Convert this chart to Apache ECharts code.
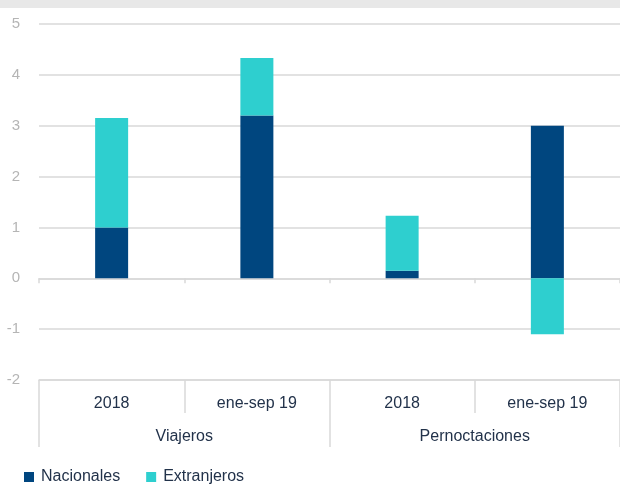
<!DOCTYPE html>
<html>
<head>
<meta charset="utf-8">
<script src="https://cdn.jsdelivr.net/npm/echarts@6/dist/echarts.min.js"></script>
<style>html,body{margin:0;padding:0;background:#fff}#c{width:620px;height:485px}</style>
</head>
<body>
<div id="c"></div>
<script>
const categories = ['2018', 'ene-sep 19', '2018', 'ene-sep 19'];
const groups = ['Viajeros', 'Pernoctaciones'];
const nacionales = [1.0, 3.2, 0.15, 3.0];
const extranjeros = [2.15, 1.13, 1.08, -1.1];
const yTicks = { min: -2, max: 5, interval: 1 };

const chart = echarts.init(document.getElementById('c'));
const font = 'Liberation Sans, Arial, sans-serif';
const txt = '#22324a';
const gridCol = '#d9d9d9';
chart.setOption({
  animation: false,
  textStyle: { fontFamily: font },
  graphic: [{ type: 'rect', shape: { x: 0, y: 0, width: 620, height: 8 }, style: { fill: '#e8e8e8' } }],
  grid: { left: 39, right: -5, top: 24, bottom: 105, containLabel: false },
  legend: {
    left: 24, top: 469, padding: 0, itemWidth: 10, itemHeight: 10, itemGap: 26, icon: 'rect',
    textStyle: { fontSize: 16, color: txt, fontFamily: font, padding: [0, 0, 0, 2] },
    data: ['Nacionales', 'Extranjeros']
  },
  xAxis: [
    { type: 'category', data: categories, position: 'bottom',
      axisLine: { onZero: true, lineStyle: { color: gridCol, width: 1.5 } },
      axisTick: { show: true, length: 5, interval: 0, lineStyle: { color: gridCol, width: 1.5 } },
      axisLabel: { show: false } },
    { type: 'category', data: categories, position: 'bottom',
      axisLine: { onZero: false, lineStyle: { color: gridCol, width: 1.5 } },
      axisTick: { show: true, length: 33, interval: 0, lineStyle: { color: gridCol, width: 1.5 } },
      axisLabel: { margin: 16, fontSize: 16, color: txt, fontFamily: font, interval: 0 } },
    { type: 'category', data: groups, position: 'bottom',
      axisLine: { show: false, onZero: false },
      axisTick: { show: true, length: 67, interval: 0, lineStyle: { color: gridCol, width: 1.5 } },
      axisLabel: { margin: 49, fontSize: 16, color: txt, fontFamily: font, interval: 0 } }
  ],
  yAxis: {
    type: 'value', min: yTicks.min, max: yTicks.max, interval: yTicks.interval,
    axisLine: { show: false }, axisTick: { show: false },
    axisLabel: { margin: 19, fontSize: 15, color: '#b5b5b5', fontFamily: font },
    splitLine: { lineStyle: { color: gridCol, width: 1.5 } }
  },
  series: [
    { name: 'Nacionales', type: 'bar', stack: 's', data: nacionales, barWidth: 33,
      itemStyle: { color: '#00467f' } },
    { name: 'Extranjeros', type: 'bar', stack: 's', data: extranjeros, barWidth: 33,
      itemStyle: { color: '#2ecfcf' } }
  ]
});
</script>
</body>
</html>
